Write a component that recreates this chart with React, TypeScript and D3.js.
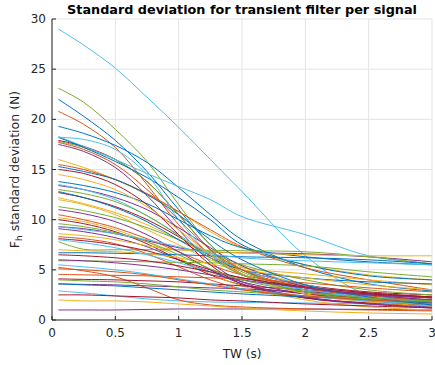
import React from "react";
import * as d3 from "d3";

const TW = [0.05, 0.25, 0.5, 0.75, 1, 1.25, 1.5, 2, 2.5, 3];

const xTicks = [0, 0.5, 1, 1.5, 2, 2.5, 3];
const yTicks = [0, 5, 10, 15, 20, 25, 30];

const blueSeries = [
  [22, 20.3, 17.9, 14.8, 11, 7.5, 5, 3, 2.2, 1.8],
  [19.3, 18.6, 17.4, 15.7, 13.2, 10.5, 8.0, 5.2, 3.6, 2.9],
  [18.2, 17.2, 15.8, 14.2, 12.2, 10, 7.5, 5.5, 4.4, 4.0],
  [13.8, 13.4, 12.7, 11.6, 10.0, 8.4, 7.2, 6.3, 5.8, 5.5],
  [6.7, 6.7, 6.65, 6.6, 6.5, 6.4, 6.3, 6.2, 6.0, 5.6],
  [12.8, 12.2, 11.2, 9.8, 8.0, 6.2, 5.0, 4.2, 3.8, 3.6],
  [3.6, 3.5, 3.4, 3.2, 3.0, 2.8, 2.6, 2.3, 2.0, 1.7],
  [15.3, 14.8, 14, 12.5, 10.5, 8, 6, 3.5, 2.3, 1.5],
];
const orangeSeries = [
  [20.8, 19.5, 17.2, 13.5, 9.5, 6.5, 4.5, 2.8, 2.0, 1.6],
  [15.5, 15, 14, 12.6, 10.8, 9, 7.3, 5.2, 4.0, 3.0],
  [10.5, 10.0, 9.2, 8.1, 6.8, 5.5, 4.5, 3.4, 2.7, 2.3],
  [8.3, 8.1, 7.6, 6.6, 5.3, 4.0, 3.1, 2.2, 1.7, 1.4],
  [5.25, 4.9, 4.3, 3.2, 2.0, 1.5, 1.3, 1.1, 1.0, 0.9],
  [4.55, 4.5, 4.45, 4.4, 4.3, 4.2, 4.1, 3.7, 3.2, 2.8],
  [17.7, 17.0, 15.5, 13, 10, 7, 5, 3.2, 2.4, 2.0],
  [5.1, 5.0, 4.8, 4.5, 4.0, 3.5, 3.0, 2.4, 2.0, 1.8],
];
const yellowSeries = [
  [16.0, 15.2, 14.0, 12.5, 10.8, 8.8, 7.2, 5.5, 4.5, 4.0],
  [12.2, 11.6, 10.7, 9.5, 8.0, 6.5, 5.3, 3.5, 2.5, 1.8],
  [12.0, 11.5, 10.5, 9.0, 7.5, 6.0, 5.2, 4.6, 4.0, 3.5],
  [10.2, 9.8, 9.0, 7.8, 6.2, 4.6, 3.4, 2.0, 1.3, 1.0],
  [8.6, 8.4, 8.0, 7.4, 7.0, 6.8, 6.7, 6.5, 6.4, 6.4],
  [7.0, 6.9, 6.8, 6.6, 6.2, 5.6, 5.0, 4.2, 3.5, 3.0],
  [14.5, 14, 13, 11.3, 9.0, 6.5, 4.6, 2.6, 1.8, 1.4],
  [2.0, 1.9, 1.9, 1.8, 1.6, 1.4, 1.2, 0.9, 0.7, 0.6],
];
const purpleSeries = [
  [1.0, 1.0, 1.0, 1.05, 1.1, 1.1, 1.1, 1.1, 1.05, 1.0],
  [9.3, 9.1, 8.6, 7.9, 7.2, 6.8, 6.7, 6.6, 6.3, 5.8],
  [9.1, 8.8, 8.2, 7.3, 6.0, 4.8, 3.8, 2.6, 1.9, 1.5],
  [13.4, 13.0, 12.2, 11.0, 9.2, 7.2, 5.4, 3.3, 2.2, 1.7],
  [17.5, 16.8, 15.2, 12.4, 9.0, 5.8, 3.8, 2.2, 1.6, 1.3],
  [3.6, 3.55, 3.5, 3.4, 3.3, 3.2, 3.1, 2.8, 2.5, 2.2],
  [11, 10.6, 9.8, 8.5, 6.8, 5.0, 3.6, 2.3, 1.6, 1.2],
  [6, 5.9, 5.7, 5.4, 5.0, 4.5, 4.0, 3.2, 2.5, 2.0],
];
const greenSeries = [
  [23.1, 21.7, 19.0, 15.8, 11.5, 7.5, 5, 3, 2.2, 1.9],
  [17.8, 17.2, 16.0, 13.8, 10.5, 7, 4.8, 3.2, 2.5, 2.2],
  [11.3, 10.9, 10.2, 9.2, 8.0, 6.7, 5.5, 4.0, 3.0, 2.5],
  [7.8, 7.05, 7.0, 7.0, 7.0, 6.95, 6.9, 6.8, 6.3, 5.6],
  [5.9, 5.9, 5.85, 5.8, 5.75, 5.7, 5.6, 5.4, 4.8, 4.3],
  [4.0, 3.9, 3.8, 3.6, 3.3, 3.0, 2.8, 2.4, 2.1, 1.9],
  [13.0, 12.6, 11.8, 10.4, 8.4, 6.2, 4.5, 2.8, 2.0, 1.6],
  [9.6, 9.3, 8.7, 7.8, 6.5, 5.1, 4.0, 2.8, 2.2, 1.9],
];
const cyanSeries = [
  [29, 27.4, 25.1, 22.2, 19.2, 16, 12.8, 6.4, 2.4, 1.2],
  [18.3, 17.3, 16.0, 14.6, 13.3, 12, 10.3, 8.5, 6.4, 5.6],
  [2.9, 2.7, 2.4, 2.1, 1.9, 1.8, 1.75, 1.7, 1.6, 1.5],
  [18.2, 18.0, 17.0, 14.5, 10, 6.5, 4.5, 3.0, 2.2, 1.8],
  [13.5, 13.0, 12.0, 10.4, 8.5, 6.5, 5.0, 3.5, 2.5, 2.0],
  [8.0, 7.7, 7.2, 6.5, 5.7, 4.8, 4.0, 3.0, 2.3, 1.8],
  [5.5, 5.3, 5.0, 4.6, 4.1, 3.6, 3.1, 2.4, 1.9, 1.5],
  [9.3, 9.0, 8.6, 8.0, 7.3, 6.6, 6.2, 5.9, 5.7, 5.5],
];
const redSeries = [
  [17.9, 17.3, 16.0, 13.8, 10.5, 7.0, 4.6, 2.8, 2.2, 2.0],
  [12.7, 12.2, 11.3, 10.0, 8.3, 6.4, 5.0, 3.5, 2.8, 2.5],
  [10, 9.6, 8.8, 7.6, 6.0, 4.5, 3.5, 2.6, 2.2, 2.0],
  [8.1, 7.9, 7.5, 6.9, 6.0, 5.0, 4.2, 3.2, 2.6, 2.2],
  [4.1, 4.05, 4.0, 3.9, 3.8, 3.6, 3.4, 3.0, 2.6, 2.3],
  [15.0, 14.6, 13.5, 11.5, 8.5, 5.5, 3.6, 2.2, 1.7, 1.5],
  [6.5, 6.4, 6.2, 5.9, 5.4, 4.8, 4.2, 3.3, 2.7, 2.3],
  [2.5, 2.5, 2.4, 2.3, 2.2, 2.0, 1.9, 1.6, 1.4, 1.2],
];

const groups: [number[][], string][] = [
  [blueSeries, "#0072BD"],
  [orangeSeries, "#D95319"],
  [yellowSeries, "#EDB120"],
  [purpleSeries, "#7E2F8E"],
  [greenSeries, "#77AC30"],
  [cyanSeries, "#4DBEEE"],
  [redSeries, "#A2142F"],
];

const W = 435, H = 365;
const L = 52, R = 432, T = 19, B = 320;
const FONT = "DejaVu Sans, sans-serif";
const AX = "#262626";

export default function App() {
  const x = d3.scaleLinear().domain([0, 3]).range([L, R]);
  const y = d3.scaleLinear().domain([0, 30]).range([B, T]);
  const line = d3
    .line<number>()
    .x((_, i) => x(TW[i]))
    .y((v) => y(v))
    .curve(d3.curveCatmullRom.alpha(0.5));

  const lines: { d: string; c: string; k: string }[] = [];
  const n = Math.max(...groups.map((g) => g[0].length));
  for (let i = 0; i < n; i++) {
    groups.forEach(([arr, c], gi) => {
      if (arr[i]) lines.push({ d: line(arr[i]) || "", c, k: `${gi}-${i}` });
    });
  }

  return (
    <svg
      width={W}
      height={H}
      style={{ position: "absolute", left: 0, top: 0, background: "#fff" }}
      fontFamily={FONT}
    >
      <rect x={0} y={0} width={W} height={H} fill="#fff" />
      {xTicks.map((t) => (
        <line key={"gx" + t} x1={x(t)} x2={x(t)} y1={T} y2={B} stroke="#e3e3e3" strokeWidth={1} />
      ))}
      {yTicks.map((t) => (
        <line key={"gy" + t} x1={L} x2={R} y1={y(t)} y2={y(t)} stroke="#e3e3e3" strokeWidth={1} />
      ))}
      <g fill="none" strokeWidth={1}>
        {lines.map((l) => (
          <path key={l.k} d={l.d} stroke={l.c} />
        ))}
      </g>
      <line x1={L} x2={L} y1={T} y2={B} stroke={AX} strokeWidth={1} />
      <line x1={L} x2={R} y1={B} y2={B} stroke={AX} strokeWidth={1} />
      {xTicks.map((t) => (
        <g key={"xt" + t}>
          <line x1={x(t)} x2={x(t)} y1={B} y2={B - 4} stroke={AX} />
          <text x={x(t)} y={337} fontSize={12} fill={AX} textAnchor="middle">
            {t}
          </text>
        </g>
      ))}
      {yTicks.map((t) => (
        <g key={"yt" + t}>
          <line x1={L} x2={L + 4} y1={y(t)} y2={y(t)} stroke={AX} />
          <text x={46} y={y(t) + 4} fontSize={12} fill={AX} textAnchor="end">
            {t}
          </text>
        </g>
      ))}
      <text x={(L + R) / 2} y={358} fontSize={12} fill={AX} textAnchor="middle">
        TW (s)
      </text>
      <text
        transform={`translate(19,${(T + B) / 2}) rotate(-90)`}
        fontSize={12.5}
        fill={AX}
        textAnchor="middle"
      >
        F<tspan fontSize={9} dy={3}>h</tspan>
        <tspan dy={-3}> standard deviation (N)</tspan>
      </text>
      <text x={(L + R) / 2} y={14} fontSize={12.8} fontWeight="bold" fill="#000" textAnchor="middle">
        Standard deviation for transient filter per signal
      </text>
    </svg>
  );
}
